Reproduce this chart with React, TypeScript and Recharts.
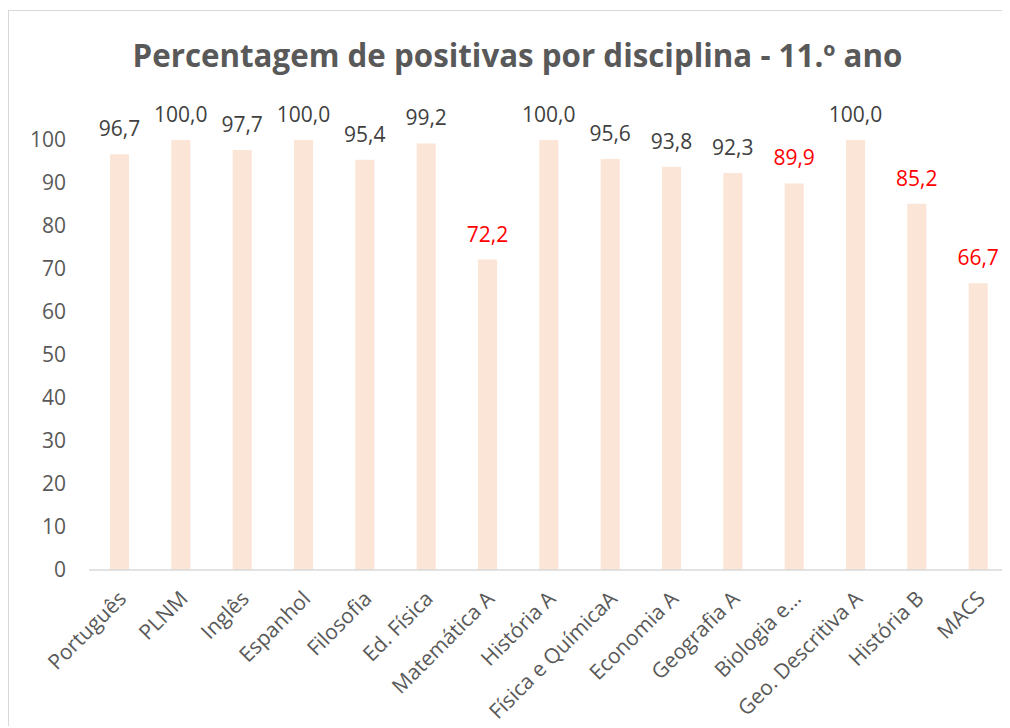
import React from 'react';
import { BarChart, Bar, XAxis, YAxis, LabelList } from 'recharts';

const subjects = [
  'Português', 'PLNM', 'Inglês', 'Espanhol', 'Filosofia', 'Ed. Física',
  'Matemática A', 'História A', 'Física e QuímicaA', 'Economia A',
  'Geografia A', 'Biologia e…', 'Geo. Descritiva A', 'História B', 'MACS'
];
const positivas = [96.7, 100.0, 97.7, 100.0, 95.4, 99.2, 72.2, 100.0, 95.6, 93.8, 92.3, 89.9, 100.0, 85.2, 66.7];
const yTicks = [0, 10, 20, 30, 40, 50, 60, 70, 80, 90, 100];

// valores abaixo de 90 aparecem a vermelho
const LIMIAR = 90;

const chartData = subjects.map((name, i) => ({ name, value: positivas[i] }));

const FONT = '"Open Sans", sans-serif';

const SubjectTick = ({ x, y, payload }: any) => (
  <text
    transform={`translate(${x + 8},${y + 28}) rotate(-45)`}
    textAnchor="end"
    fontSize={21}
    fontFamily={FONT}
    fill="#595959"
  >
    {payload.value}
  </text>
);

const ValueLabel = (props: any) => {
  const { x, y, width, value } = props;
  return (
    <text
      x={x + width / 2}
      y={y - 18}
      textAnchor="middle"
      fontSize={21}
      fontFamily={FONT}
      fill={value < LIMIAR ? '#FF0000' : '#404040'}
    >
      {value.toFixed(1).replace('.', ',')}
    </text>
  );
};

export default function App() {
  return (
    <div
      style={{
        position: 'relative',
        marginTop: 2,
        width: 1002,
        height: 716,
        borderTop: '1px solid #d9d9d9',
        borderLeft: '1px solid #d9d9d9',
        boxSizing: 'border-box',
        background: '#fff',
        fontFamily: FONT,
        overflow: 'hidden',
      }}
    >
      <div
        style={{
          position: 'absolute',
          left: 0,
          width: 1001,
          top: 23,
          paddingLeft: 16,
          boxSizing: 'border-box',
          textAlign: 'center',
          fontSize: 31.3,
          fontWeight: 700,
          color: '#595959',
        }}
      >
        Percentagem de positivas por disciplina - 11.º ano
      </div>
      <BarChart
        width={1001}
        height={715}
        data={chartData}
        margin={{ top: 129, right: 1, bottom: 6, left: 0 }}
        barCategoryGap={0}
      >
        <XAxis
          dataKey="name"
          interval={0}
          tick={<SubjectTick />}
          tickLine={false}
          tickSize={0}
          height={150}
          axisLine={{ stroke: '#d9d9d9', strokeWidth: 1.5 }}
        />
        <YAxis
          domain={[0, 100]}
          ticks={yTicks}
          width={80}
          axisLine={false}
          tickLine={false}
          tickMargin={17}
          tick={{ fontSize: 21, fontFamily: FONT, fill: '#595959' }}
        />
        <Bar dataKey="value" fill="#FBE5D6" barSize={19} isAnimationActive={false}>
          <LabelList dataKey="value" content={<ValueLabel />} />
        </Bar>
      </BarChart>
    </div>
  );
}
